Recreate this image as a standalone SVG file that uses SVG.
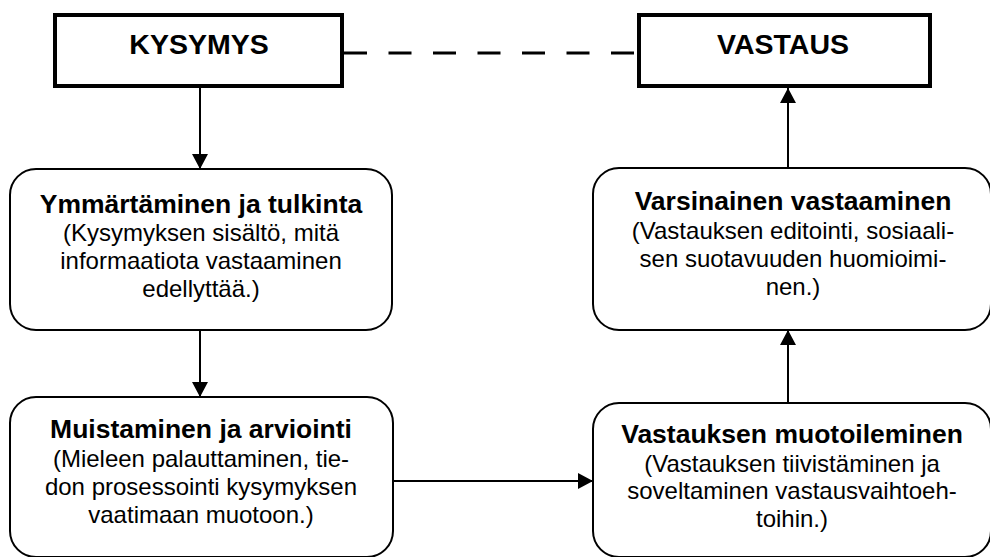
<svg xmlns="http://www.w3.org/2000/svg" width="990" height="557" viewBox="0 0 990 557">
<style>
  .title-box { fill: #fff; stroke: #000; stroke-width: 4; }
  .step-box { fill: #fff; stroke: #000; stroke-width: 2; }
  .title { font-family: "Liberation Sans", Arial, sans-serif; font-weight: bold; font-size: 28.5px; text-anchor: middle; fill: #000; }
  .head { font-family: "Liberation Sans", Arial, sans-serif; font-weight: bold; font-size: 26.5px; text-anchor: middle; fill: #000; }
  .body { font-family: "Liberation Sans", Arial, sans-serif; font-size: 24px; text-anchor: middle; fill: #000; }
  .conn { stroke: #000; stroke-width: 2; fill: none; }
  .dash { stroke: #000; stroke-width: 3; fill: none; stroke-dasharray: 23 21.5; }
</style>
<defs>
  <marker id="arrow" markerUnits="userSpaceOnUse" markerWidth="16" markerHeight="16" refX="15" refY="8" orient="auto">
    <path d="M0,0 L15,8 L0,16 z" fill="#000"/>
  </marker>
</defs>
<rect width="990" height="557" fill="#fff"/>

<g id="connectors">
  <line class="dash" x1="344" y1="53" x2="637" y2="53"/>
  <line class="conn" x1="200" y1="88" x2="200" y2="169" marker-end="url(#arrow)"/>
  <line class="conn" x1="200" y1="330" x2="200" y2="397" marker-end="url(#arrow)"/>
  <line class="conn" x1="393" y1="481" x2="593" y2="481" marker-end="url(#arrow)"/>
  <line class="conn" x1="788" y1="403" x2="788" y2="330" marker-end="url(#arrow)"/>
  <line class="conn" x1="788" y1="168" x2="788" y2="88" marker-end="url(#arrow)"/>
</g>

<g id="kysymys">
  <rect class="title-box" x="55" y="15" width="287" height="71"/>
  <text class="title" x="199" y="54">KYSYMYS</text>
</g>

<g id="vastaus">
  <rect class="title-box" x="639" y="15" width="291" height="71"/>
  <text class="title" x="783" y="54">VASTAUS</text>
</g>

<g id="ymmartaminen">
  <rect class="step-box" x="10" y="169" width="382" height="161" rx="26" ry="26"/>
  <text class="head" x="201" y="213">Ymmärtäminen ja tulkinta</text>
  <text class="body" x="201" y="241">(Kysymyksen sisältö, mitä</text>
  <text class="body" x="201" y="269">informaatiota vastaaminen</text>
  <text class="body" x="201" y="297">edellyttää.)</text>
</g>

<g id="muistaminen">
  <rect class="step-box" x="10" y="397" width="383" height="160" rx="26" ry="26"/>
  <text class="head" x="201" y="438">Muistaminen ja arviointi</text>
  <text class="body" x="201" y="467">(Mieleen palauttaminen, tie-</text>
  <text class="body" x="201" y="495">don prosessointi kysymyksen</text>
  <text class="body" x="201" y="523">vaatimaan muotoon.)</text>
</g>

<g id="varsinainen">
  <rect class="step-box" x="593" y="168" width="398" height="162" rx="26" ry="26"/>
  <text class="head" x="793" y="210">Varsinainen vastaaminen</text>
  <text class="body" x="793" y="239">(Vastauksen editointi, sosiaali-</text>
  <text class="body" x="793" y="267">sen suotavuuden huomioimi-</text>
  <text class="body" x="793" y="295">nen.)</text>
</g>

<g id="muotoileminen">
  <rect class="step-box" x="593" y="403" width="398" height="154" rx="26" ry="26"/>
  <text class="head" x="792" y="443">Vastauksen muotoileminen</text>
  <text class="body" x="792" y="472">(Vastauksen tiivistäminen ja</text>
  <text class="body" x="792" y="499">soveltaminen vastausvaihtoeh-</text>
  <text class="body" x="792" y="527">toihin.)</text>
</g>
</svg>
